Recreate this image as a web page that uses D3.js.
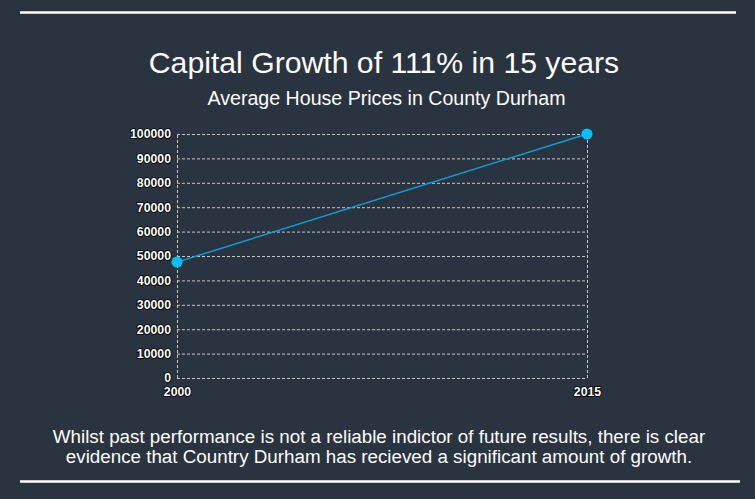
<!DOCTYPE html>
<html><head><meta charset="utf-8">
<script src="https://cdn.jsdelivr.net/npm/d3@7"></script>
<style>
html,body{margin:0;padding:0;background:#2a3340;}
svg{display:block;font-family:"Liberation Sans",Arial,Helvetica,sans-serif;}
.tick text{fill:#fff;font-size:12.3px;font-weight:bold;paint-order:stroke;stroke:#000;stroke-width:1.6px;}
</style></head>
<body>
<script>
const years = [2000, 2015];
const prices = [47500, 100000];
const yTicks = [0,10000,20000,30000,40000,50000,60000,70000,80000,90000,100000];
const title = "Capital Growth of 111% in 15 years";
const subtitle = "Average House Prices in County Durham";
const footer = ["Whilst past performance is not a reliable indictor of future results, there is clear",
                "evidence that Country Durham has recieved a significant amount of growth."];

const W = 755, H = 499;
const svg = d3.select("body").append("svg").attr("width", W).attr("height", H);
svg.append("rect").attr("width", W).attr("height", H).attr("fill", "#2a3340");

// rules
svg.append("line").attr("x1",20).attr("x2",736).attr("y1",12.5).attr("y2",12.5).attr("stroke","#fff").attr("stroke-width",2.5);
svg.append("line").attr("x1",20).attr("x2",740).attr("y1",481.5).attr("y2",481.5).attr("stroke","#fff").attr("stroke-width",2.5);

svg.append("text").attr("x",384).attr("y",73).attr("text-anchor","middle").attr("fill","#fff")
  .attr("font-size",30.2).text(title);
svg.append("text").attr("x",386.5).attr("y",105).attr("text-anchor","middle").attr("fill","#fff")
  .attr("font-size",19.6).text(subtitle);

const m = {l:177, r:587, t:134, b:378};
const x = d3.scaleLinear().domain([2000,2015]).range([m.l, m.r]);
const y = d3.scaleLinear().domain([0,100000]).range([m.b, m.t]);

const g = svg.append("g");
// horizontal grid
g.append("g").attr("transform",`translate(${m.l},0)`)
  .call(d3.axisLeft(y).tickValues(yTicks).tickSize(-(m.r-m.l)).tickFormat(d=>d).tickPadding(6))
  .call(s=>s.select(".domain").remove())
  .call(s=>s.selectAll(".tick line").attr("stroke","#c8c8c8").attr("stroke-dasharray","3,2").attr("stroke-width",1));
// vertical grid
g.append("g").attr("transform",`translate(0,${m.b})`)
  .call(d3.axisBottom(x).tickValues(years).tickSize(-(m.b-m.t)).tickFormat(d=>d).tickPadding(9))
  .call(s=>s.select(".domain").remove())
  .call(s=>s.selectAll(".tick line").attr("stroke","#c8c8c8").attr("stroke-dasharray","3,2").attr("stroke-width",1));

const data = years.map((yr,i)=>({yr, v:prices[i]}));
g.append("path").datum(data).attr("fill","none").attr("stroke","#0b9fd8").attr("stroke-width",1.5)
  .attr("d", d3.line().x(d=>x(d.yr)).y(d=>y(d.v)));
g.selectAll("circle").data(data).join("circle").attr("cx",d=>x(d.yr)).attr("cy",d=>y(d.v)).attr("r",5.5)
  .attr("fill","#00bfff");

svg.selectAll(".foot").data(footer).join("text").attr("class","foot")
  .attr("x",379).attr("y",(d,i)=>443+i*20).attr("text-anchor","middle").attr("fill","#fff")
  .attr("font-size",18.8).text(d=>d);
</script>
</body></html>
